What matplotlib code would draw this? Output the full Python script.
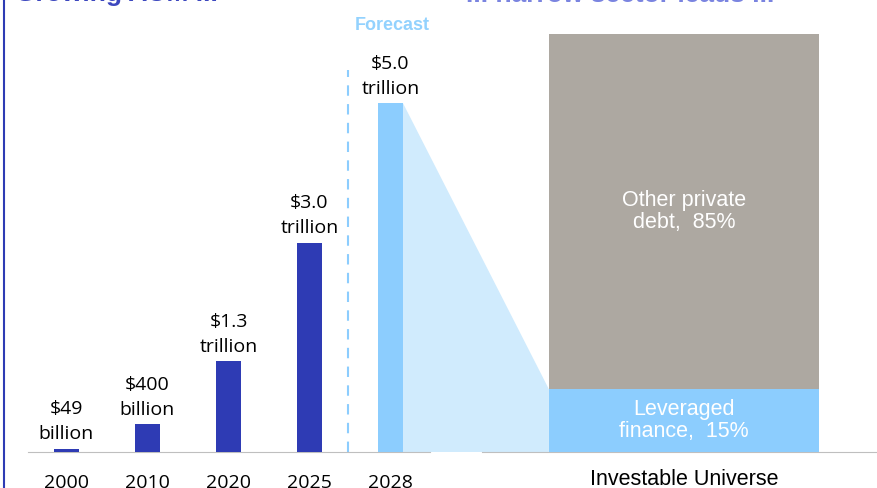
import matplotlib.pyplot as plt
from matplotlib.patches import Polygon

# данные
years = ['2000', '2010', '2020', '2025', '2028']
aum = [0.049, 0.4, 1.3, 3.0, 5.0]   # трлн $
aum_labels = ['$49\nbillion', '$400\nbillion', '$1.3\ntrillion', '$3.0\ntrillion', '$5.0\ntrillion']
segments = ['Leveraged\nfinance,  15%', 'Other private\ndebt,  85%']
shares = [15, 85]

dark_blue = '#2E3BB4'
light_blue = '#8CCDFE'
pale_blue = '#D0EBFD'
grey = '#ADA8A1'

W, H = 878, 488
fig = plt.figure(figsize=(W / 100, H / 100), dpi=100)

# левая часть: рост AUM
ax1 = fig.add_axes([28 / W, 36 / H, (430 - 28) / W, 452 / H])
ax1.set_facecolor('none')
colors = [dark_blue] * 4 + [light_blue]
x = range(len(years))
bars = ax1.bar(x, aum, width=0.31, color=colors, zorder=3)
ax1.set_xlim(-0.475, 4.488)
ax1.set_ylim(0, 6.48)
for b, lab in zip(bars, aum_labels):
    ax1.annotate(lab, (b.get_x() + b.get_width() / 2, b.get_height()),
                 xytext=(0, 4), textcoords='offset points', ha='center', va='bottom',
                 fontsize=14, family='Open Sans', linespacing=1.5, color='black')
ax1.axvline(3.47, ymin=0, ymax=(452 - 70) / 452, color=light_blue, lw=1.5,
            dashes=(5, 4))
ax1.text(4.02, 1 - 25 / 452, 'Forecast', transform=ax1.get_xaxis_transform(),
         ha='center', va='center', fontsize=13, fontweight='bold',
         family='Liberation Sans', color='#93D2FE')
ax1.set_xticks(list(x))
ax1.set_xticklabels(years, fontsize=14, family='Open Sans')
ax1.tick_params(axis='x', length=0, pad=16)
ax1.set_yticks([])
for s in ['top', 'right', 'left']:
    ax1.spines[s].set_visible(False)
ax1.spines['bottom'].set_color('#BFBFBF')

# правая часть: структура
ax2 = fig.add_axes([482 / W, 36 / H, (878 - 482) / W, 452 / H])
ax2.set_facecolor('none')
bottom = 0
seg_colors = [light_blue, grey]
for seg, sh, c in zip(segments, shares, seg_colors):
    ax2.bar(0, sh, bottom=bottom, width=1, color=c, zorder=3)
    ax2.text(0, bottom + sh / 2, seg, ha='center', va='center',
             color='white', fontsize=15.5, family='Liberation Sans', linespacing=1.1,
             zorder=4)
    bottom += sh
ax2.set_xlim(-0.748, 0.719)
ax2.set_ylim(0, 108.1)
ax2.set_xticks([0])
ax2.set_xticklabels(['Investable Universe'], fontsize=15.5, family='Liberation Sans')
ax2.tick_params(axis='x', length=0, pad=12)
ax2.set_yticks([])
for s in ['top', 'right', 'left']:
    ax2.spines[s].set_visible(False)
ax2.spines['bottom'].set_color('#BFBFBF')

# клин от столбца 2028 к сегменту
inv = fig.transFigure.inverted()
b = bars[-1]
p1 = inv.transform(ax1.transData.transform((b.get_x() + b.get_width(), b.get_height())))
p0 = inv.transform(ax1.transData.transform((b.get_x() + b.get_width(), 0)))
q1 = inv.transform(ax2.transData.transform((-0.5, shares[0])))
q0 = inv.transform(ax2.transData.transform((-0.5, 0)))
fig.patches.append(Polygon([p0, p1, q1, q0], closed=True, transform=fig.transFigure,
                           facecolor=pale_blue, edgecolor='none', zorder=-1))

# заголовки (обрезаны сверху) и рамка слева
fig.text(15 / W, 1 - 1.5 / H, 'Growing AUM ...', ha='left', va='baseline', fontsize=19,
         fontweight='bold', family='Liberation Sans', color='#3D48BF')
fig.text(466 / W, 1 - 1.5 / H, '... narrow sector leads ...', ha='left', va='baseline',
         fontsize=19, fontweight='bold', family='Liberation Sans', color='#7A84E0')
fig.add_artist(plt.Line2D([4.5 / W, 4.5 / W], [0, 1], color=dark_blue, lw=1.5))

plt.savefig('out.png', dpi=100)
